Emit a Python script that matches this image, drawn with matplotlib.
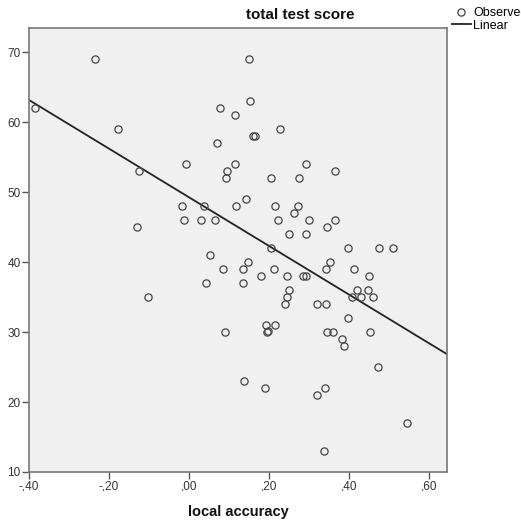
import numpy as np
import matplotlib
matplotlib.use('Agg')
import matplotlib.pyplot as plt
from matplotlib.ticker import FuncFormatter

plt.rcParams['font.family'] = ['Liberation Sans Narrow', 'Liberation Sans', 'DejaVu Sans']

# observed points (local accuracy, total test score)
local_accuracy = [
    -0.235, 0.150, -0.385, 0.077, 0.152, 0.115, -0.178, 0.159, 0.166, 0.069,
    -0.008, -0.125, 0.114, 0.096, 0.092, -0.018, 0.038, 0.117, 0.142, -0.013,
    0.030, 0.066, -0.131, 0.228, 0.292, 0.204, 0.276, 0.366, 0.216, 0.273,
    0.262, 0.222, 0.300, 0.346, 0.365, 0.249, 0.292, 0.397, 0.474, 0.510,
    0.204, 0.052, 0.085, 0.135, 0.147, 0.180, 0.042, 0.134, -0.103, 0.089,
    0.193, 0.195, 0.198, 0.214, 0.138, 0.190, 0.352, 0.213, 0.342, 0.412,
    0.244, 0.286, 0.293, 0.450, 0.250, 0.419, 0.448, 0.246, 0.408, 0.430,
    0.459, 0.241, 0.320, 0.342, 0.397, 0.345, 0.360, 0.452, 0.383, 0.387,
    0.473, 0.321, 0.340, 0.545, 0.337,
]
total_score = [
    69, 69, 62, 62, 63, 61, 59, 58, 58, 57,
    54, 53, 54, 53, 52, 48, 48, 48, 49, 46,
    46, 46, 45, 59, 54, 52, 52, 53, 48, 48,
    47, 46, 46, 45, 46, 44, 44, 42, 42, 42,
    42, 41, 39, 39, 40, 38, 37, 37, 35, 30,
    31, 30, 30.2, 31, 23, 22, 40, 39, 39, 39,
    38, 38, 38, 38, 36, 36, 36, 35, 35, 35,
    35, 34, 34, 34, 32, 30, 30, 30, 29, 28,
    25, 21, 22, 17, 13,
]

x_ticks = [-0.40, -0.20, 0.00, 0.20, 0.40, 0.60]
y_ticks = [10, 20, 30, 40, 50, 60, 70]


def spss_fmt(v, pos):
    s = '{:.2f}'.format(v).replace('.', ',')
    s = s.replace('0,', ',', 1) if s.startswith('0,') or s.startswith('-0,') else s
    return s


def main():
    fig = plt.figure(figsize=(5.21, 5.22), dpi=100)
    ax = fig.add_axes([29 / 521, 50 / 522, 418 / 521, 444 / 522])
    ax.set_facecolor('#f0f0f0')

    x = np.array(local_accuracy)
    y = np.array(total_score)

    ax.set_xlim(-0.40, 0.645)
    ax.set_ylim(10, 73.5)

    slope, intercept = np.polyfit(x, y, 1)
    xl = np.array(ax.get_xlim())
    line, = ax.plot(xl, intercept + slope * xl, color='#222222', lw=1.3,
                    label='Linear', zorder=2)
    pts, = ax.plot(x, y, 'o', mfc='none', mec='#444444', ms=5.2, mew=0.9,
                   label='Observed', zorder=3, clip_on=False)

    ax.set_xticks(x_ticks)
    ax.set_yticks(y_ticks)
    ax.xaxis.set_major_formatter(FuncFormatter(spss_fmt))
    ax.tick_params(direction='out', length=5, width=1, color='#555555',
                   labelsize=8.5, labelcolor='#333333', pad=1)
    for sp in ax.spines.values():
        sp.set_color('#777777')
        sp.set_linewidth(1.2)

    fig.text(300 / 521, 1 - 15 / 522, 'total test score', ha='center',
             va='center', fontsize=11, fontweight='bold', color='#111111')
    fig.text(238 / 521, 1 - 512 / 522, 'local accuracy', ha='center',
             va='center', fontsize=10.5, fontweight='bold', color='#111111')

    fig.legend([pts, line], ['Observed', 'Linear'], loc='upper left',
               bbox_to_anchor=(452 / 521, 1 - 7 / 522), frameon=False,
               fontsize=9, handlelength=1.5, handletextpad=0.2,
               labelspacing=0.05, borderpad=0, borderaxespad=0)

    fig.savefig('out.png', dpi=100)


if __name__ == "__main__":
    main()
